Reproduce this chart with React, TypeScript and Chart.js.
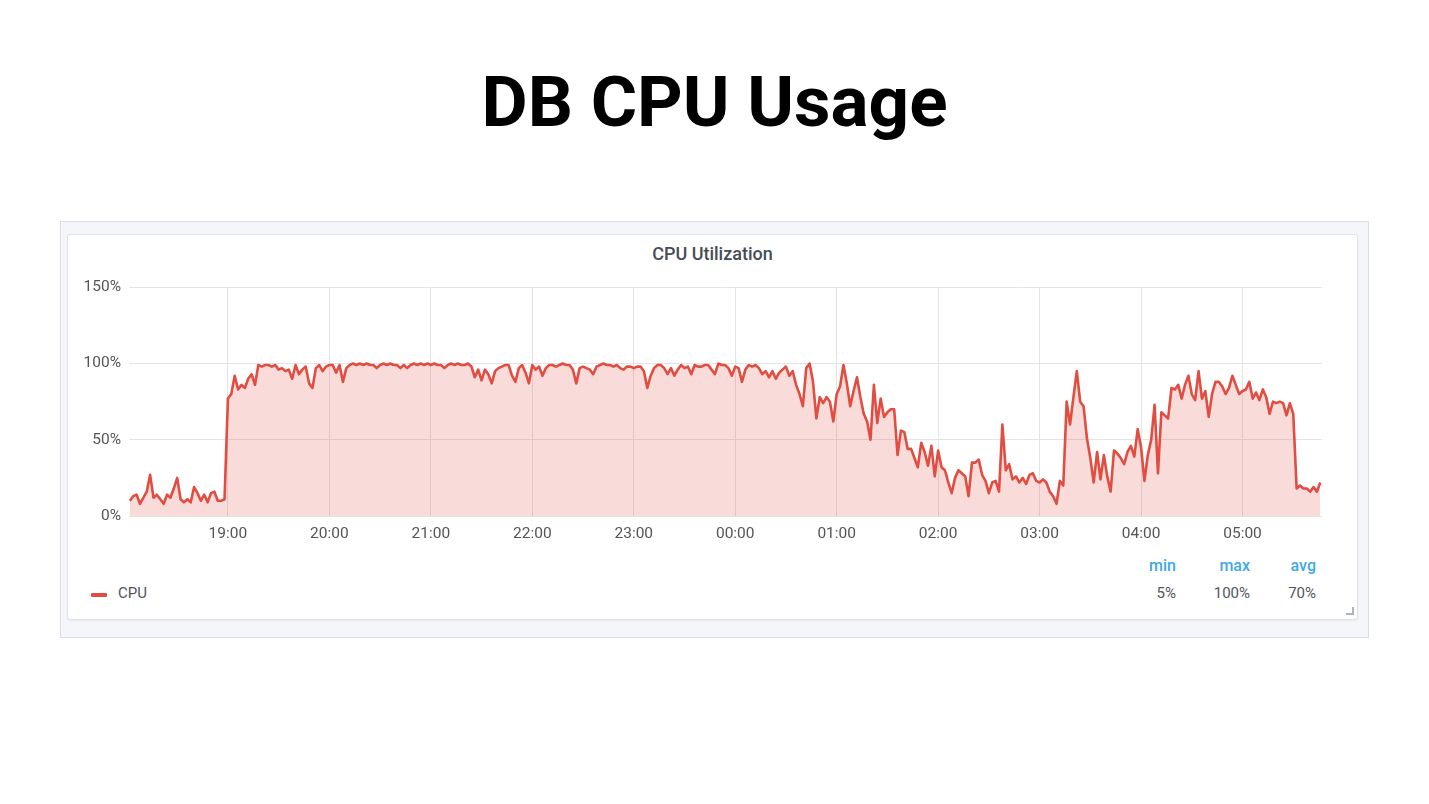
import React, { useEffect, useRef } from "react";
import { Chart, registerables } from "chart.js";

Chart.register(...registerables);

// CPU % sampled every 2 minutes, starting 18:02
const cpu18 = [10, 13, 14, 8, 12, 16, 27, 12, 14, 11, 8, 14, 12, 18, 25, 11, 9, 11, 9, 19, 15, 10, 14, 9, 15, 16, 10, 10, 11];
const cpu19 = [77, 80, 92, 83, 86, 84, 90, 93, 86, 99, 98, 99, 99, 98, 99, 96, 97, 95, 96, 90, 99, 93, 96, 98, 87, 84, 97, 99, 95, 98];
const cpu20 = [99, 99, 94, 99, 88, 97, 99, 100, 99, 100, 99, 100, 99, 99, 97, 99, 100, 99, 100, 99, 99, 97, 99, 97, 99, 100, 99, 100, 99, 100];
const cpu21 = [99, 100, 99, 99, 97, 99, 100, 99, 100, 99, 99, 100, 98, 91, 96, 89, 96, 93, 87, 95, 97, 98, 99, 99, 92, 88, 97, 99, 94, 87];
const cpu22 = [99, 96, 98, 92, 97, 99, 99, 98, 99, 100, 99, 99, 96, 87, 97, 98, 97, 96, 93, 98, 99, 100, 99, 99, 98, 99, 97, 96, 98, 98];
const cpu23 = [97, 98, 98, 95, 84, 92, 97, 99, 99, 97, 93, 97, 92, 96, 99, 97, 98, 93, 99, 98, 98, 99, 99, 96, 93, 100, 99, 99, 97, 92];
const cpu00 = [98, 97, 88, 96, 99, 98, 99, 97, 93, 95, 91, 95, 90, 94, 96, 98, 92, 95, 86, 80, 72, 97, 100, 88, 64, 78, 74, 78, 75, 62];
const cpu01 = [80, 85, 99, 87, 72, 82, 91, 78, 67, 62, 50, 86, 61, 77, 65, 68, 70, 70, 40, 56, 55, 44, 44, 38, 32, 48, 42, 33, 46, 26];
const cpu02 = [43, 32, 30, 22, 15, 25, 30, 28, 26, 13, 35, 35, 37, 27, 23, 15, 22, 23, 16, 60, 30, 34, 24, 26, 22, 25, 21, 27, 28, 23];
const cpu03 = [22, 24, 22, 16, 13, 8, 23, 20, 75, 60, 78, 95, 75, 72, 51, 38, 22, 42, 24, 40, 26, 16, 43, 41, 38, 34, 42, 46, 39, 57];
const cpu04 = [45, 23, 40, 50, 73, 28, 68, 66, 64, 84, 83, 86, 77, 86, 92, 80, 76, 95, 77, 82, 65, 80, 88, 88, 85, 80, 84, 92, 86, 80];
const cpu05 = [82, 83, 88, 77, 81, 76, 83, 78, 67, 75, 74, 75, 74, 66, 74, 67, 18, 20, 18, 18, 16, 19, 16, 22];

const cpuSeries = [...cpu18, ...cpu19, ...cpu20, ...cpu21, ...cpu22, ...cpu23, ...cpu00, ...cpu01, ...cpu02, ...cpu03, ...cpu04, ...cpu05];
const START_MIN = 2; // minutes after 18:00
const STEP_MIN = 2;

const hourLabels = ["19:00", "20:00", "21:00", "22:00", "23:00", "00:00", "01:00", "02:00", "03:00", "04:00", "05:00"];
const hourTickMinutes = hourLabels.map((_, i) => 60 * (i + 1));
const yTickValues = [0, 50, 100, 150];

const statNames = ["min", "max", "avg"];
const statValues = ["5%", "100%", "70%"];
const statRight = [1176, 1250, 1316];

const FONT = "Roboto, 'Noto Sans', sans-serif";

export default function App() {
  const ref = useRef<HTMLCanvasElement>(null);

  useEffect(() => {
    const points = cpuSeries.map((v, i) => ({ x: START_MIN + STEP_MIN * i, y: v }));
    const chart = new Chart(ref.current as HTMLCanvasElement, {
      type: "line",
      data: {
        datasets: [
          {
            label: "CPU",
            data: points,
            borderColor: "#e24d42",
            backgroundColor: "rgba(226,77,66,0.2)",
            fill: "origin",
            borderWidth: 2.6,
            borderJoinStyle: "round",
            pointRadius: 0,
            tension: 0,
          },
        ],
      },
      options: {
        animation: false,
        responsive: false,
        maintainAspectRatio: false,
        layout: { padding: { top: 15, right: 7, left: 0, bottom: 0 } },
        plugins: {
          legend: { display: false },
          tooltip: { enabled: false },
          title: { display: false },
        },
        scales: {
          x: {
            type: "linear",
            min: 1.5,
            max: 707,
            afterBuildTicks: (s: any) => {
              s.ticks = hourTickMinutes.map((v) => ({ value: v }));
            },
            afterFit: (s: any) => {
              s.height = 30;
            },
            ticks: {
              autoSkip: false,
              maxRotation: 0,
              padding: 9,
              color: "#555",
              font: { family: FONT, size: 15.5 },
              callback: (v: any) => hourLabels[hourTickMinutes.indexOf(Number(v))] ?? "",
            },
            grid: { color: "#e4e4e4", drawTicks: false, lineWidth: 1 },
            border: { display: false },
          },
          y: {
            type: "linear",
            min: 0,
            max: 150,
            afterBuildTicks: (s: any) => {
              s.ticks = yTickValues.map((v) => ({ value: v }));
            },
            afterFit: (s: any) => {
              s.width = 59;
            },
            ticks: {
              padding: 8,
              color: "#555",
              font: { family: FONT, size: 15.5 },
              callback: (v: any) => v + "%",
            },
            grid: { color: "#e4e4e4", drawTicks: false, lineWidth: 1 },
            border: { display: false },
          },
        },
      },
    });
    return () => chart.destroy();
  }, []);

  const abs = (s: React.CSSProperties): React.CSSProperties => ({ position: "absolute", ...s });

  return (
    <div style={abs({ left: 0, top: 0, width: 1429, height: 804, background: "#fff", fontFamily: FONT, overflow: "hidden" })}>
      <div
        style={abs({
          left: 0,
          top: 66,
          width: 1429,
          textAlign: "center",
          fontSize: 71,
          lineHeight: "71px",
          fontWeight: 700,
          color: "#000",
        })}
      >
        DB CPU Usage
      </div>

      <div
        style={abs({
          left: 60,
          top: 221,
          width: 1309,
          height: 417,
          boxSizing: "border-box",
          border: "1px solid #dcdde1",
          background: "#f5f6f9",
        })}
      />
      <div
        style={abs({
          left: 67,
          top: 234,
          width: 1291,
          height: 386,
          boxSizing: "border-box",
          border: "1px solid #e2e3e7",
          borderRadius: 3,
          background: "#fff",
          boxShadow: "0 1px 2px rgba(0,0,0,0.06)",
        })}
      />
      <div
        style={abs({
          left: 67,
          top: 243,
          width: 1291,
          textAlign: "center",
          fontSize: 18,
          lineHeight: "22px",
          fontWeight: 500,
          color: "#464c54",
        })}
      >
        CPU Utilization
      </div>

      <div style={abs({ left: 70, top: 270, width: 1259, height: 276 })}>
        <canvas ref={ref} width={1259} height={276} style={{ display: "block", width: 1259, height: 276 }} />
      </div>

      <div style={abs({ left: 91, top: 593, width: 16, height: 4, background: "#e24d42", borderRadius: 1 })} />
      <div style={abs({ left: 118, top: 583, fontSize: 15, lineHeight: "20px", color: "#52545c" })}>CPU</div>

      {statNames.map((n, i) => (
        <div
          key={n}
          style={abs({
            left: statRight[i] - 60,
            width: 60,
            top: 556,
            textAlign: "right",
            fontSize: 16,
            lineHeight: "20px",
            fontWeight: 500,
            color: "#3fa9e6",
          })}
        >
          {n}
        </div>
      ))}
      {statValues.map((v, i) => (
        <div
          key={i}
          style={abs({
            left: statRight[i] - 60,
            width: 60,
            top: 583,
            textAlign: "right",
            fontSize: 15,
            lineHeight: "20px",
            color: "#52545c",
          })}
        >
          {v}
        </div>
      ))}

      <div
        style={abs({
          left: 1346,
          top: 607,
          width: 6,
          height: 6,
          borderRight: "2px solid #b0b3b8",
          borderBottom: "2px solid #b0b3b8",
        })}
      />
    </div>
  );
}
